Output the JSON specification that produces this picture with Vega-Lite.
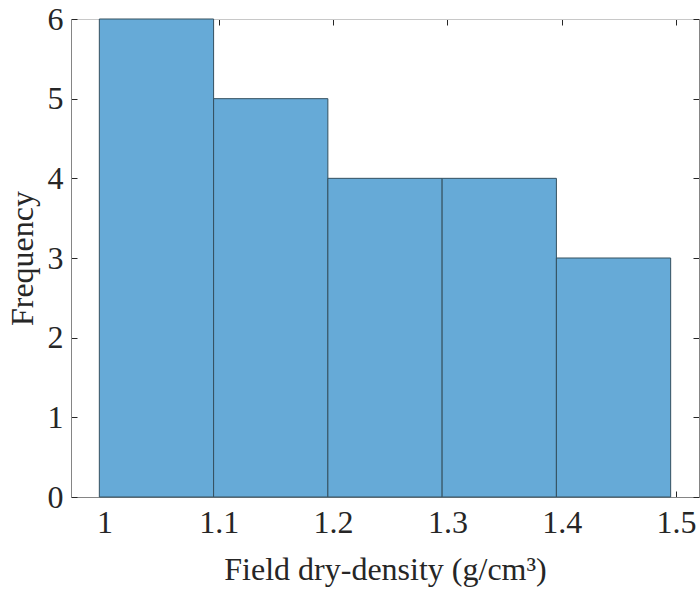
{
  "$schema": "https://vega.github.io/schema/vega-lite/v6.json",
  "width": 628,
  "height": 478,
  "autosize": {"type": "none"},
  "padding": {"left": 71, "top": 19, "right": 1, "bottom": 97},
  "background": "white",
  "config": {
    "view": {"stroke": null},
    "axis": {
      "labelFont": "Liberation Serif",
      "titleFont": "Liberation Serif",
      "labelFontSize": 32,
      "titleFontSize": 32,
      "labelColor": "#262626",
      "titleColor": "#262626",
      "titleFontWeight": "normal",
      "grid": false,
      "domainColor": "#858585",
      "domainWidth": 1,
      "tickColor": "#262626",
      "tickWidth": 1,
      "tickSize": -6
    }
  },
  "data": {
    "values": [
      {"bin_start": 0.9954, "bin_end": 1.0954, "count": 6},
      {"bin_start": 1.0954, "bin_end": 1.1954, "count": 5},
      {"bin_start": 1.1954, "bin_end": 1.2954, "count": 4},
      {"bin_start": 1.2954, "bin_end": 1.3954, "count": 4},
      {"bin_start": 1.3954, "bin_end": 1.4954, "count": 3}
    ]
  },
  "layer": [
    {
      "mark": {"type": "rect", "fill": "#66aad7", "stroke": "#34505f", "strokeWidth": 1},
      "encoding": {
        "x": {
          "field": "bin_start", "type": "quantitative",
          "scale": {"domain": [0.9706, 1.5202], "nice": false, "zero": false},
          "axis": {"orient": "bottom", "values": [1, 1.1, 1.2, 1.3, 1.4, 1.5], "format": "~g", "labelPadding": 16, "title": "Field dry-density (g/cm³)", "titlePadding": 16}
        },
        "x2": {"field": "bin_end"},
        "y": {
          "field": "count", "type": "quantitative",
          "scale": {"domain": [0, 6], "nice": false},
          "axis": {"orient": "left", "values": [0, 1, 2, 3, 4, 5, 6], "labelPadding": 14, "title": "Frequency", "titlePadding": 8}
        }
      }
    },
    {
      "mark": {"type": "rect", "opacity": 0},
      "encoding": {
        "x": {
          "field": "bin_start", "type": "quantitative",
          "scale": {"domain": [0.9706, 1.5202], "nice": false, "zero": false},
          "axis": {"orient": "top", "values": [1, 1.1, 1.2, 1.3, 1.4, 1.5], "labels": false, "title": null, "domainColor": "#c8c8c8"}
        },
        "x2": {"field": "bin_end"},
        "y": {
          "field": "count", "type": "quantitative",
          "scale": {"domain": [0, 6], "nice": false},
          "axis": {"orient": "right", "values": [0, 1, 2, 3, 4, 5, 6], "labels": false, "title": null}
        }
      }
    }
  ],
  "resolve": {"scale": {"x": "independent", "y": "independent"}, "axis": {"x": "independent", "y": "independent"}}
}
